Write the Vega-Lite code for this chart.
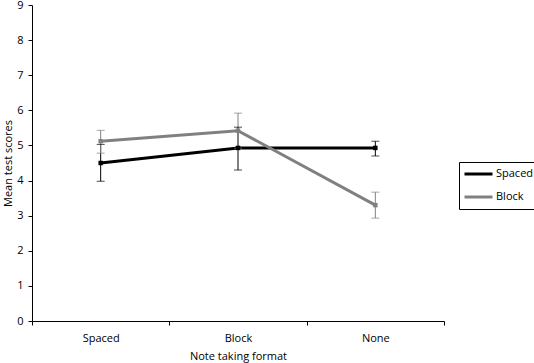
{
  "$schema": "https://vega.github.io/schema/vega-lite/v6.json",
  "width": 412,
  "height": 316,
  "autosize": "none",
  "padding": {"left": 32, "top": 5, "right": 90, "bottom": 42},
  "background": "white",
  "config": {
    "font": "Open Sans",
    "view": {"stroke": null},
    "axis": {"labelFont": "Open Sans", "titleFont": "Open Sans", "labelFontSize": 11, "titleFontSize": 11, "titleFontWeight": "normal", "labelColor": "#000", "titleColor": "#000", "domainColor": "#000", "tickColor": "#000", "grid": false}
  },
  "data": {
    "values": [
      {"format": "Spaced", "series": "Spaced", "mean": 4.5, "lo": 3.98, "hi": 5.03},
      {"format": "Block", "series": "Spaced", "mean": 4.93, "lo": 4.3, "hi": 5.52},
      {"format": "None", "series": "Spaced", "mean": 4.93, "lo": 4.7, "hi": 5.12},
      {"format": "Spaced", "series": "Block", "mean": 5.12, "lo": 4.78, "hi": 5.43},
      {"format": "Block", "series": "Block", "mean": 5.42, "lo": 4.92, "hi": 5.92},
      {"format": "None", "series": "Block", "mean": 3.3, "lo": 2.93, "hi": 3.67}
    ]
  },
  "encoding": {
    "x": {
      "field": "format", "type": "nominal", "sort": ["Spaced", "Block", "None"],
      "scale": {"type": "band", "paddingInner": 0, "paddingOuter": 0},
      "axis": {"title": "Note taking format", "labelAngle": 0, "tickBand": "extent", "tickSize": 4, "labelPadding": 7, "titlePadding": 7}
    },
    "color": {
      "field": "series", "type": "nominal",
      "scale": {"domain": ["Spaced", "Block"], "range": ["#000000", "#808080"]},
      "legend": {
        "title": null, "orient": "none", "legendX": 427, "legendY": 157,
        "symbolType": "stroke", "symbolSize": 784, "symbolStrokeWidth": 3, "symbolOpacity": 1,
        "labelFont": "Open Sans", "labelFontSize": 11, "labelColor": "#000", "strokeColor": "#000",
        "padding": 4, "clipHeight": 16, "rowPadding": 7, "labelOffset": 2
      }
    }
  },
  "layer": [
    {
      "mark": {"type": "line", "strokeWidth": 3},
      "encoding": {
        "y": {"field": "mean", "type": "quantitative", "scale": {"domain": [0, 9]},
          "axis": {"title": "Mean test scores", "tickCount": 9, "tickSize": 4, "labelPadding": 5, "titlePadding": 3}}
      }
    },
    {
      "mark": {"type": "rule", "strokeWidth": 1},
      "encoding": {"y": {"field": "lo", "type": "quantitative"}, "y2": {"field": "hi"}}
    },
    {
      "mark": {"type": "tick", "thickness": 1, "size": 8},
      "encoding": {"y": {"field": "lo", "type": "quantitative"}}
    },
    {
      "mark": {"type": "tick", "thickness": 1, "size": 8},
      "encoding": {"y": {"field": "hi", "type": "quantitative"}}
    },
    {
      "mark": {"type": "point", "shape": "square", "filled": true, "size": 20, "opacity": 1},
      "encoding": {"y": {"field": "mean", "type": "quantitative"}}
    }
  ]
}
